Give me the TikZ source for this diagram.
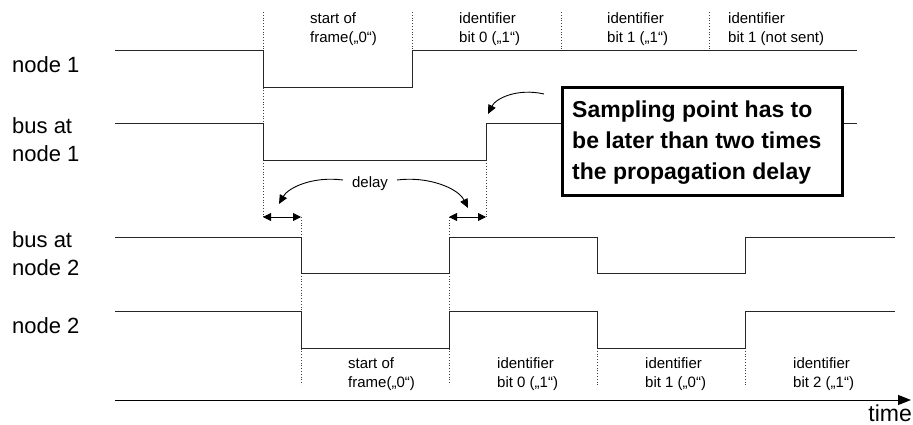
\documentclass[tikz,border=0pt]{standalone}
\usepackage{fontspec}
\setmainfont{Liberation Sans}
\usetikzlibrary{arrows.meta}
\begin{document}
\begin{tikzpicture}[x=1pt,y=-1pt,
  sig/.style={line width=1pt, draw=black!85},
  guide/.style={dotted, line width=0.8pt, draw=black!75},
  lbl/.style={font=\fontsize{22}{28}\selectfont, align=left, anchor=base west, inner sep=0pt},
  small/.style={font=\fontsize{15}{19}\selectfont, align=left, anchor=base west, inner sep=0pt},
  boxtext/.style={font=\fontsize{23}{31}\selectfont\bfseries, align=left, anchor=base west, inner sep=0pt},
  callout/.style={draw=black, line width=3pt, fill=white, minimum width=280pt, minimum height=107pt, inner sep=0pt},
  curv/.style={line width=0.9pt, -{Triangle[length=9pt,width=8pt]}},
  dbl/.style={line width=0.9pt, {Triangle[length=8pt,width=8pt]}-{Triangle[length=8pt,width=8pt]}},
  axis/.style={line width=1pt, -{Triangle[length=13pt,width=10pt]}}]
\useasboundingbox (0,0) rectangle (913,425);

% guides (dotted)
\draw[guide] (263,12) -- (263,217);
\draw[guide] (412,12) -- (412,51);
\draw[guide] (561,12) -- (561,51);
\draw[guide] (709,12) -- (709,51);
\draw[guide] (486,124) -- (486,217);
\draw[guide] (301,217) -- (301,385);
\draw[guide] (449,217) -- (449,385);
\draw[guide] (597,348) -- (597,385);
\draw[guide] (745,348) -- (745,385);

% signals
\draw[sig] (115,51) -- (263,51) -- (263,88) -- (412,88) -- (412,51) -- (857,51);
\draw[sig] (115,124) -- (263,124) -- (263,161) -- (486,161) -- (486,124) -- (857,124);
\draw[sig] (115,237) -- (301,237) -- (301,273) -- (449,273) -- (449,237) -- (597,237) -- (597,273) -- (745,273) -- (745,237) -- (895,237);
\draw[sig] (115,311) -- (301,311) -- (301,348) -- (449,348) -- (449,311) -- (597,311) -- (597,348) -- (745,348) -- (745,311) -- (895,311);

% left labels (anchor = baseline of last line)
\node[lbl] (n1) at (12,73) {node 1};
\node[lbl] (b1) at (12,161) {bus at\\node 1};
\node[lbl] (b2) at (12,275) {bus at\\node 2};
\node[lbl] (n2) at (12,333) {node 2};

% top labels
\node[small] (t1) at (310,43) {start of\\frame(„0“)};
\node[small] (t2) at (459,43) {identifier\\bit 0 („1“)};
\node[small] (t3) at (607,43) {identifier\\bit 1 („1“)};
\node[small] (t4) at (728,43) {identifier\\bit 1 (not sent)};

% bottom labels
\node[small] (u1) at (348,387) {start of\\frame(„0“)};
\node[small] (u2) at (497,387) {identifier\\bit 0 („1“)};
\node[small] (u3) at (645,387) {identifier\\bit 1 („0“)};
\node[small] (u4) at (793,387) {identifier\\bit 2 („1“)};

% delay arrows
\coordinate (a1) at (263,217);
\coordinate (a2) at (301,217);
\coordinate (a3) at (449,217);
\coordinate (a4) at (486,217);
\draw[dbl] (a1) -- (a2);
\draw[dbl] (a3) -- (a4);

\node[small, anchor=center] (delay) at (370,184) {delay};
\coordinate (dl0) at (343,180);
\coordinate (dl1) at (279,204);
\coordinate (dr0) at (397,180);
\coordinate (dr1) at (468,208);
\draw[curv] (dl0) .. controls (312,176) and (288,188) .. (dl1);
\draw[curv] (dr0) .. controls (428,176) and (458,188) .. (dr1);

% callout
\node[callout] (box) at (702,141.5) {};
\node[boxtext] (boxtxt) at (572,179) {Sampling point has to\\be later than two times\\the propagation delay};
\coordinate (c0) at (544,94);
\coordinate (c1) at (488,114);
\draw[curv] (c0) .. controls (518,88) and (496,98) .. (c1);

% time axis
\coordinate (ax0) at (115,400);
\coordinate (ax1) at (911,400);
\draw[axis] (ax0) -- (ax1);
\node[font=\fontsize{23}{28}\selectfont, anchor=base east, inner sep=0pt] (time) at (912,421) {time};
\end{tikzpicture}
\end{document}
